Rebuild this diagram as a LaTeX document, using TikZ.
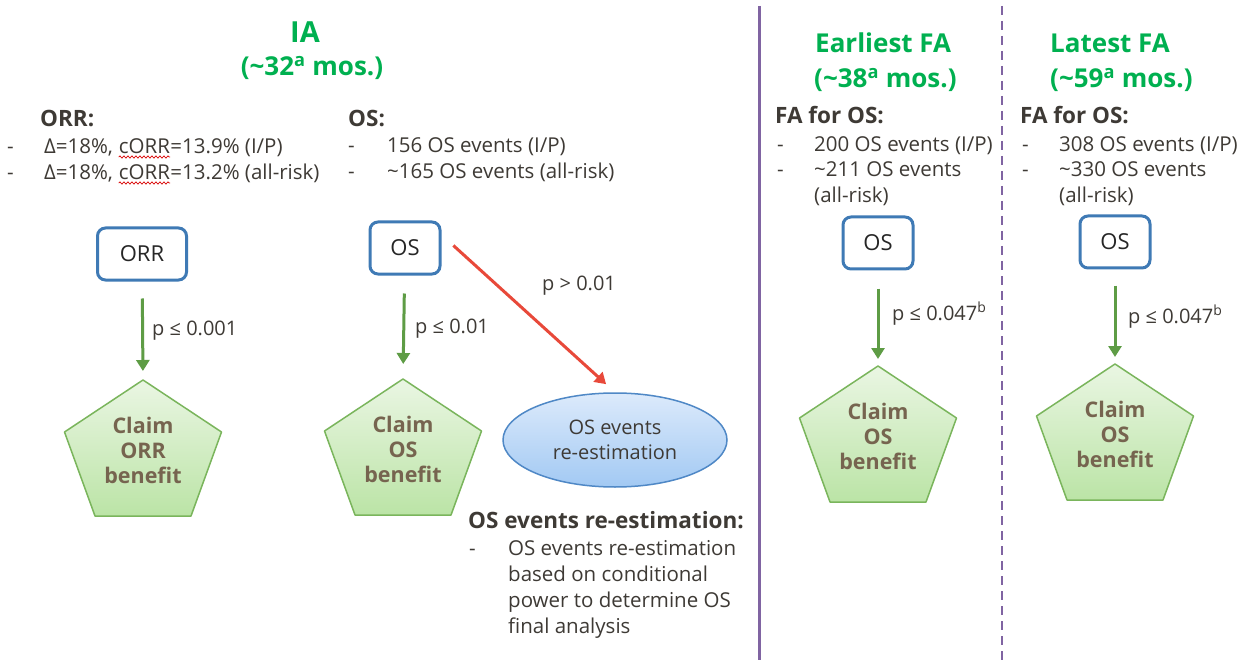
\documentclass[tikz,border=0pt]{standalone}
\usepackage{fontspec}
\setmainfont{Open Sans}
\usetikzlibrary{shapes.geometric,arrows.meta,decorations.pathmorphing}

\definecolor{txt}{HTML}{3E3A35}
\definecolor{ttl}{HTML}{00B050}
\definecolor{claimtxt}{HTML}{76644F}
\definecolor{boxblue}{HTML}{3F7AB5}
\definecolor{okgreen}{HTML}{5E9C45}
\definecolor{nored}{HTML}{E8493A}
\definecolor{divider}{HTML}{8064A2}
\definecolor{pentline}{HTML}{7AB55C}
\definecolor{penttop}{HTML}{EAF6E3}
\definecolor{pentbot}{HTML}{BBE4A6}
\definecolor{elltop}{HTML}{DCEAFB}
\definecolor{ellbot}{HTML}{A2C9F3}
\definecolor{ellline}{HTML}{4F88C6}

\tikzset{
  body/.style={inner sep=0pt, anchor=base west, text=txt, font=\fontsize{20.5}{26}\selectfont},
  head/.style={inner sep=0pt, anchor=base west, text=txt, font=\fontsize{22.5}{26}\selectfont\bfseries},
  title/.style={inner sep=0pt, anchor=base, text=ttl, font=\fontsize{26}{30}\selectfont\bfseries},
  titleleft/.style={title, anchor=base west},
  plabel/.style={inner sep=0pt, anchor=base west, text=txt, font=\fontsize{20}{25}\selectfont},
  obox/.style={draw=boxblue, line width=3pt, rounded corners=8pt, fill=white,
    minimum width=70pt, minimum height=52pt, inner sep=0pt,
    font=\fontsize{22}{26}\selectfont, text=black!85},
  claimtext/.style={inner sep=0pt, align=center, text=claimtxt,
    font=\fontsize{21.5}{25}\selectfont\bfseries},
  goarrow/.style={draw=okgreen, line width=3pt, -{Triangle[length=11pt,width=13pt]},
    shorten <=17pt, shorten >=9pt},
  stoparrow/.style={draw=nored, line width=3pt, -{Triangle[length=11pt,width=13pt]}},
  squig/.style={draw=red!85!black, line width=0.7pt,
    decorate, decoration={snake, amplitude=1.1pt, segment length=4pt}},
  claimpent/.pic={
    \shade[top color=penttop, bottom color=pentbot, draw=pentline, line width=1.5pt,
      line join=round]
      (0,0) -- (78.5,52) -- (48,136) -- (-48,136) -- (-78.5,52) -- cycle;
    \coordinate (-top) at (0,0);
  }
}

\begin{document}
\begin{tikzpicture}[x=1pt, y=-1pt]
\useasboundingbox[fill=white] (0,0) rectangle (1244,660);

% dividers between the analysis stages
\draw[divider, line width=3pt] (759,6) -- (759,660);
\draw[divider, line width=2.5pt, dash pattern=on 9pt off 6pt] (1002,6) -- (1002,660);

% ---------- interim analysis ----------
\node[title, font=\fontsize{29}{30}\selectfont\bfseries] (iatitle) at (305,43) {IA};
\node[title] (iamos) at (312,76) {(\char`\~32\textsuperscript{a} mos.)};

\node[head] (orrhead) at (40,127) {ORR:};
\node[body] (orrd1) at (7,154) {-};
\node[body] (orrl1a) at (44,154) {Δ=18\%,\kern0.27em};
\node[body] (orrl1b) at (orrl1a.base east) {cORR};
\node[body] (orrl1c) at (orrl1b.base east) {=13.9\% (I/P)};
\node[body] (orrd2) at (7,180) {-};
\node[body] (orrl2a) at (44,180) {Δ=18\%,\kern0.27em};
\node[body] (orrl2b) at (orrl2a.base east) {cORR};
\node[body] (orrl2c) at (orrl2b.base east) {=13.2\% (all-risk)};
\draw[squig] ([yshift=-3pt]orrl1b.base west) -- ([yshift=-3pt]orrl1b.base east);
\draw[squig] ([yshift=-3pt]orrl2b.base west) -- ([yshift=-3pt]orrl2b.base east);

\node[head] (oshead) at (348,127) {OS:};
\node[body] (osd1) at (348,153) {-};
\node[body] (osl1) at (387,153) {156 OS events (I/P)};
\node[body] (osd2) at (348,179) {-};
\node[body] (osl2) at (387,179) {\char`\~165 OS events (all-risk)};

\node[obox, minimum width=89pt] (orrbox) at (142,254) {ORR};
\node[obox] (osbox) at (405,248) {OS};

\pic (orrclaim) at (143,380) {claimpent};
\node[claimtext] (orrclaimtext) at (143,450) {Claim\\ORR\\benefit};
\pic (osclaim) at (403,379) {claimpent};
\node[claimtext] (osclaimtext) at (403,449) {Claim\\OS\\benefit};

\draw[goarrow] (orrbox) -- (orrclaim-top);
\node[plabel] (orrp) at (152,335) {p ≤ 0.001};
\draw[goarrow, shorten <=18pt, shorten >=15pt] (osbox) -- (osclaim-top);
\node[plabel] (osp) at (415,333) {p ≤ 0.01};

\node[ellipse, draw=ellline, line width=1.5pt, top color=elltop, bottom color=ellbot,
  minimum width=224pt, minimum height=94pt, inner sep=0pt, align=center, text=txt,
  font=\fontsize{20}{25}\selectfont] (reest) at (615,440) {OS events\\re-estimation};
\draw[stoparrow, shorten <=16pt, shorten >=12pt] (osbox.20) -- (reest.north);
\node[plabel] (reestp) at (542,290) {p > 0.01};

\node[head] (reesthead) at (468,528) {OS events re-estimation:};
\node[body] (reestd1) at (469,555) {-};
\node[body] (reestl1) at (508,555) {OS events re-estimation};
\node[body] (reestl2) at (508,581) {based on conditional};
\node[body] (reestl3) at (508,607) {power to determine OS};
\node[body] (reestl4) at (508,633) {final analysis};

% ---------- earliest final analysis ----------
\node[titleleft] (eftitle) at (815,53) {Earliest FA};
\node[titleleft] (efmos) at (814,88) {(\char`\~38\textsuperscript{a} mos.)};
\node[head] (efhead) at (775,124) {FA for OS:};
\node[body] (efd1) at (777,152) {-};
\node[body] (efl1) at (814,152) {200 OS events (I/P)};
\node[body] (efd2) at (777,177) {-};
\node[body] (efl2) at (814,177) {\char`\~211 OS events};
\node[body] (efl3) at (814,203) {(all-risk)};

\node[obox] (efbox) at (878,243) {OS};
\pic (efclaim) at (878,366) {claimpent};
\node[claimtext] (efclaimtext) at (878,436) {Claim\\OS\\benefit};
\draw[goarrow, shorten <=18pt, shorten >=7pt] (efbox) -- (efclaim-top);
\node[plabel] (efp) at (892,320) {p ≤ 0.047\textsuperscript{b}};

% ---------- latest final analysis ----------
\node[titleleft] (lftitle) at (1050,53) {Latest FA};
\node[titleleft] (lfmos) at (1050,88) {(\char`\~59\textsuperscript{a} mos.)};
\node[head] (lfhead) at (1020,124) {FA for OS:};
\node[body] (lfd1) at (1022,152) {-};
\node[body] (lfl1) at (1059,152) {308 OS events (I/P)};
\node[body] (lfd2) at (1022,177) {-};
\node[body] (lfl2) at (1059,177) {\char`\~330 OS events};
\node[body] (lfl3) at (1059,203) {(all-risk)};

\node[obox] (lfbox) at (1115,242) {OS};
\pic (lfclaim) at (1115,364) {claimpent};
\node[claimtext] (lfclaimtext) at (1115,434) {Claim\\OS\\benefit};
\draw[goarrow, shorten <=16pt, shorten >=7pt] (lfbox) -- (lfclaim-top);
\node[plabel] (lfp) at (1128,323) {p ≤ 0.047\textsuperscript{b}};
\end{tikzpicture}
\end{document}
